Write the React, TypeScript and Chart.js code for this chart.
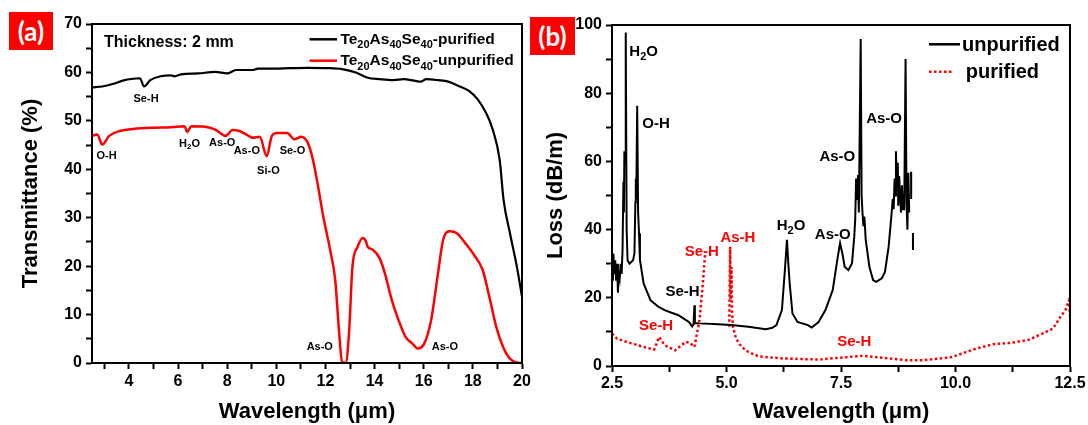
import React, { useEffect, useRef } from "react";
import { Chart, registerables } from "chart.js";

Chart.register(...registerables);

const FONT = '"Liberation Sans", Arial, Helvetica, sans-serif';

// ===== Panel (a): transmittance, Te20As40Se40, thickness 2 mm =====
const aPurifiedWavelength = [2.5, 2.92, 3.34, 3.75, 4.17, 4.45, 4.62, 4.87, 5.29, 5.71, 5.85, 6.13, 6.82, 7.52, 8.0, 8.36, 9.05, 9.26, 9.89, 10.59, 11.28, 12.12, 12.68, 13.24, 13.72, 14.21, 14.77, 15.19, 15.61, 15.89, 16.1, 16.58, 17.0, 17.42, 17.84, 18.19, 18.53, 18.81, 19.09, 19.25, 19.51, 19.79, 20.0];
const aPurifiedTransmittance = [56.9, 57.1, 57.6, 58.3, 58.7, 58.8, 57.1, 58.4, 59.2, 59.4, 59.2, 59.6, 59.8, 60.1, 59.8, 60.5, 60.5, 60.8, 60.8, 60.9, 60.95, 60.9, 60.7, 60.0, 58.9, 58.6, 58.4, 58.6, 58.3, 58.1, 58.6, 58.4, 58.1, 57.2, 56.2, 54.5, 51.7, 48.2, 42.0, 33.7, 26.8, 19.9, 13.7];

const aUnpurifiedWavelength = [2.5, 2.71, 2.92, 3.2, 3.62, 4.31, 5.01, 5.71, 6.26, 6.38, 6.54, 7.1, 7.52, 7.94, 8.22, 8.5, 8.77, 9.05, 9.33, 9.61, 9.82, 10.03, 10.45, 10.73, 11.01, 11.28, 11.49, 11.7, 11.91, 12.19, 12.4, 12.54, 12.68, 12.82, 12.96, 13.1, 13.31, 13.52, 13.65, 13.72, 13.93, 14.21, 14.42, 14.7, 14.98, 15.26, 15.54, 15.75, 16.02, 16.3, 16.58, 16.79, 17.07, 17.35, 17.7, 18.05, 18.4, 18.67, 18.95, 19.23, 19.51, 19.93, 20.0];
const aUnpurifiedTransmittance = [46.9, 47.2, 45.1, 46.9, 47.9, 48.4, 48.6, 48.7, 48.9, 47.7, 48.9, 48.8, 48.2, 46.9, 48.1, 47.9, 47.2, 46.5, 46.7, 42.7, 46.9, 47.5, 47.5, 46.2, 46.7, 45.5, 42.0, 36.5, 30.3, 23.4, 17.1, 7.5, 0.2, 0, 6.1, 19.9, 24.0, 25.8, 25.1, 24.0, 23.4, 21.6, 18.5, 13.0, 8.8, 5.4, 4.0, 3.0, 4.0, 8.8, 18.5, 25.4, 27.2, 26.8, 24.7, 22.3, 19.2, 13.7, 7.5, 3.3, 0.9, 0, 0];

const aSeriesNames = ["Te_{20}As_{40}Se_{40}-purified", "Te_{20}As_{40}Se_{40}-unpurified"];
const aXTicks = [3, 4, 5, 6, 7, 8, 9, 10, 11, 12, 13, 14, 15, 16, 17, 18, 19, 20];
const aYTicks = [0, 5, 10, 15, 20, 25, 30, 35, 40, 45, 50, 55, 60, 65, 70];

const aPeakLabels = [
  { text: "Se-H", x: 4.7, y: 54.7, color: "#000" },
  { text: "O-H", x: 3.09, y: 42.9, color: "#000" },
  { text: "H_{2}O", x: 6.47, y: 45.5, color: "#000" },
  { text: "As-O", x: 7.8, y: 45.6, color: "#000" },
  { text: "As-O", x: 8.8, y: 44.0, color: "#000" },
  { text: "Si-O", x: 9.68, y: 39.8, color: "#000" },
  { text: "Se-O", x: 10.66, y: 44.0, color: "#000" },
  { text: "As-O", x: 11.77, y: 3.5, color: "#000" },
  { text: "As-O", x: 16.86, y: 3.5, color: "#000" },
];

// ===== Panel (b): fibre loss =====
const bUnpurifiedWavelength = [2.5, 2.52, 2.53, 2.55, 2.57, 2.59, 2.61, 2.63, 2.65, 2.67, 2.69, 2.71, 2.73, 2.75, 2.76, 2.77, 2.79, 2.8, 2.82, 2.84, 2.88, 2.92, 2.96, 2.99, 3.01, 3.02, 3.03, 3.05, 3.07, 3.09, 3.11, 3.19, 3.34, 3.5, 3.65, 3.8, 3.95, 4.1, 4.18, 4.25, 4.28, 4.3, 4.31, 4.4, 4.72, 5.1, 5.48, 5.86, 6.0, 6.09, 6.21, 6.28, 6.32, 6.35, 6.38, 6.44, 6.55, 6.78, 6.86, 7.01, 7.16, 7.32, 7.43, 7.48, 7.53, 7.58, 7.66, 7.74, 7.79, 7.81, 7.83, 7.85, 7.87, 7.89, 7.93, 7.95, 7.97, 7.99, 8.01, 8.04, 8.12, 8.2, 8.27, 8.39, 8.46, 8.54, 8.6, 8.63, 8.65, 8.67, 8.69, 8.7, 8.72, 8.74, 8.75, 8.77, 8.79, 8.81, 8.83, 8.85, 8.88, 8.91, 8.93, 8.95, 8.97, 8.99, 9.01, 9.03, 9.032, 9.05, 9.07, 9.072];
const bUnpurifiedLoss = [29, 25, 33, 27, 31, 25, 30, 21.5, 28, 26, 30, 27, 34, 54, 45, 63, 60, 97.8, 40, 31, 30, 30.5, 31, 33, 48, 55, 49, 76.3, 45, 38.9, 31.1, 24.2, 19.3, 17.5, 16.4, 15.6, 14.9, 13.6, 12.9, 11.6, 12.2, 17.8, 12.6, 12.5, 12.3, 12.0, 11.5, 10.8, 11.2, 12.0, 16.4, 29.1, 37.0, 30, 24.2, 15.4, 12.9, 12.0, 11.3, 12.9, 16.4, 22.3, 32.1, 36.0, 33, 29.1, 28.1, 30.1, 38, 43, 55, 49, 56, 45, 95.9, 50, 44.8, 41, 43.8, 37, 29.1, 25.2, 24.7, 25.7, 27.6, 35, 44, 49, 46, 55, 50, 63, 52, 59.6, 47, 55.7, 50, 45, 53, 46, 46, 90, 48.8, 40, 56.7, 45, null, 57, 49, null, 39, 34];

const bPurifiedWavelength = [2.5, 2.61, 2.81, 3.19, 3.42, 3.53, 3.65, 3.88, 4.11, 4.2, 4.3, 4.41, 4.49, 4.53, 4.8, 5.06, 5.08, 5.09, 5.11, 5.12, 5.14, 5.21, 5.33, 5.48, 5.71, 6.25, 7.01, 7.62, 8.0, 8.54, 8.92, 9.3, 9.92, 10.45, 10.83, 11.22, 11.6, 11.9, 12.13, 12.29, 12.4, 12.48, 12.5];
const bPurifiedLoss = [9.5, 8.0, 7.1, 5.6, 4.8, 8.5, 6.1, 4.6, 7.1, 6.8, 5.6, 13.4, 25.2, 32.5, null, 11.5, 35, 19.3, 29, 16.4, 11.5, 8.0, 5.6, 4.1, 2.8, 2.2, 1.9, 2.6, 3.0, 2.2, 1.7, 1.7, 2.6, 5.1, 6.4, 6.8, 7.7, 9.5, 11, 14.4, 16.4, 19.3, 14.4];

const bSeriesNames = ["unpurified", "purified"];
const bXTicks = [2.5, 3.75, 5, 6.25, 7.5, 8.75, 10, 11.25, 12.5];
const bYTicks = [0, 10, 20, 30, 40, 50, 60, 70, 80, 90, 100];

const bPeakLabels = [
  { text: "H_{2}O", x: 3.19, y: 92.5, color: "#000" },
  { text: "O-H", x: 3.46, y: 71.5, color: "#000" },
  { text: "Se-H", x: 4.04, y: 22.1, color: "#000" },
  { text: "H_{2}O", x: 6.41, y: 41.4, color: "#000" },
  { text: "As-O", x: 7.32, y: 38.7, color: "#000" },
  { text: "As-O", x: 7.42, y: 61.8, color: "#000" },
  { text: "As-O", x: 8.44, y: 72.9, color: "#000" },
  { text: "Se-H", x: 4.46, y: 33.8, color: "#ff0000" },
  { text: "As-H", x: 5.25, y: 37.9, color: "#ff0000" },
  { text: "Se-H", x: 3.46, y: 12.1, color: "#ff0000" },
  { text: "Se-H", x: 7.79, y: 7.5, color: "#ff0000" },
];

// ===== helpers =====
const zip = (xs: number[], ys: (number | null)[]) => xs.map((x, i) => ({ x, y: ys[i] }));

type Part = { t: string; sub: boolean };
function parseRich(s: string): Part[] {
  const parts: Part[] = [];
  const re = /_\{([^}]*)\}/g;
  let last = 0;
  let m: RegExpExecArray | null;
  while ((m = re.exec(s))) {
    if (m.index > last) parts.push({ t: s.slice(last, m.index), sub: false });
    parts.push({ t: m[1], sub: true });
    last = re.lastIndex;
  }
  if (last < s.length) parts.push({ t: s.slice(last), sub: false });
  return parts;
}

function drawRich(ctx: CanvasRenderingContext2D, s: string, x: number, y: number, size: number, color: string, align: "left" | "center") {
  const parts = parseRich(s);
  const subSize = Math.round(size * 0.72);
  const fontFor = (sub: boolean) => `bold ${sub ? subSize : size}px ${FONT}`;
  let w = 0;
  for (const p of parts) {
    ctx.font = fontFor(p.sub);
    w += ctx.measureText(p.t).width;
  }
  let cx = align === "center" ? x - w / 2 : x;
  const base = y + size * 0.36;
  ctx.fillStyle = color;
  ctx.textBaseline = "alphabetic";
  ctx.textAlign = "left";
  for (const p of parts) {
    ctx.font = fontFor(p.sub);
    ctx.fillText(p.t, cx, p.sub ? base + size * 0.26 : base);
    cx += ctx.measureText(p.t).width;
  }
}

function legendLine(ctx: CanvasRenderingContext2D, x0: number, x1: number, y: number, color: string, width: number, dash: number[]) {
  ctx.save();
  ctx.strokeStyle = color;
  ctx.lineWidth = width;
  ctx.setLineDash(dash);
  ctx.beginPath();
  ctx.moveTo(x0, y);
  ctx.lineTo(x1, y);
  ctx.stroke();
  ctx.restore();
}

const framePlugin = {
  id: "frame",
  afterDatasetsDraw(chart: any) {
    const { ctx, chartArea } = chart;
    const { left, top, right, bottom } = chartArea;
    ctx.save();
    ctx.strokeStyle = "#000";
    ctx.lineWidth = 2;
    ctx.strokeRect(left, top, right - left, bottom - top);
    ctx.restore();
  },
};

function peakLabelPlugin(id: string, labels: { text: string; x: number; y: number; color: string }[], size: number) {
  return {
    id,
    afterDatasetsDraw(chart: any) {
      const { ctx, scales } = chart;
      ctx.save();
      for (const l of labels) {
        drawRich(ctx, l.text, scales.x.getPixelForValue(l.x), scales.y.getPixelForValue(l.y), size, l.color, "center");
      }
      ctx.restore();
    },
  };
}

const tickFont = { family: FONT, size: 16, weight: "bold" as const };
const titleFont = { family: FONT, size: 22, weight: "bold" as const };

function axis(opts: {
  min: number; max: number; ticks: number[]; label: (v: number) => string;
  size: number; horizontal: boolean; title: string; titlePad: number; tickPad: number;
}) {
  return {
    type: "linear" as const,
    min: opts.min,
    max: opts.max,
    afterBuildTicks: (s: any) => {
      s.ticks = opts.ticks.map((v) => ({ value: v }));
    },
    afterFit: (s: any) => {
      if (opts.horizontal) s.height = opts.size;
      else s.width = opts.size;
    },
    ticks: {
      autoSkip: false,
      maxRotation: 0,
      color: "#000",
      font: tickFont,
      padding: opts.tickPad,
      callback: (v: any) => opts.label(Number(v)),
    },
    grid: {
      display: true,
      drawOnChartArea: false,
      drawTicks: true,
      tickLength: 6,
      tickColor: "#000",
      tickWidth: 2,
    },
    border: { display: true, color: "#000", width: 2 },
    title: {
      display: true,
      text: opts.title,
      color: "#000",
      font: titleFont,
      padding: opts.horizontal ? { top: 0, bottom: opts.titlePad } : { top: opts.titlePad, bottom: 0 },
    },
  };
}

function configA(): any {
  const legendA = {
    id: "legendA",
    afterDraw(chart: any) {
      const ctx = chart.ctx;
      ctx.save();
      drawRich(ctx, "Thickness: 2 mm", 104, 41.7, 16, "#000", "left");
      legendLine(ctx, 309.6, 337, 39.3, "#000", 2.5, []);
      drawRich(ctx, aSeriesNames[0], 340.4, 38.5, 15.5, "#000", "left");
      legendLine(ctx, 309.6, 337, 60.7, "#ff0000", 2.5, []);
      drawRich(ctx, aSeriesNames[1], 340.4, 59.9, 15.5, "#000", "left");
      ctx.restore();
    },
  };
  return {
    type: "line",
    data: {
      datasets: [
        {
          label: "Te₂₀As₄₀Se₄₀-purified",
          data: zip(aPurifiedWavelength, aPurifiedTransmittance),
          borderColor: "#000",
          borderWidth: 2.2,
          pointRadius: 0,
          cubicInterpolationMode: "monotone",
        },
        {
          label: "Te₂₀As₄₀Se₄₀-unpurified",
          data: zip(aUnpurifiedWavelength, aUnpurifiedTransmittance),
          borderColor: "#ff0000",
          borderWidth: 2.5,
          pointRadius: 0,
          cubicInterpolationMode: "monotone",
        },
      ],
    },
    options: {
      animation: false,
      responsive: false,
      layout: { padding: { top: 24, right: 23, left: 0, bottom: 0 } },
      plugins: { legend: { display: false }, tooltip: { enabled: false } },
      scales: {
        x: axis({ min: 2.5, max: 20, ticks: aXTicks, label: (v) => (v % 2 === 0 ? String(v) : ""), size: 62, horizontal: true, title: "Wavelength (μm)", titlePad: 0, tickPad: 3 }),
        y: axis({ min: 0, max: 70, ticks: aYTicks, label: (v) => (v % 10 === 0 ? String(v) : ""), size: 92, horizontal: false, title: "Transmittance (%)", titlePad: 18, tickPad: 4 }),
      },
    },
    plugins: [framePlugin, peakLabelPlugin("peaksA", aPeakLabels, 11), legendA],
  };
}

function configB(): any {
  const legendB = {
    id: "legendB",
    afterDraw(chart: any) {
      const ctx = chart.ctx;
      ctx.save();
      legendLine(ctx, 399, 430, 44.3, "#000", 2.5, []);
      drawRich(ctx, bSeriesNames[0], 432, 43.5, 20, "#000", "left");
      legendLine(ctx, 399, 423, 71.7, "#ff0000", 2.5, [2.5, 2.5]);
      drawRich(ctx, bSeriesNames[1], 435.7, 71, 20, "#000", "left");
      ctx.restore();
    },
  };
  return {
    type: "line",
    data: {
      datasets: [
        {
          label: bSeriesNames[0],
          data: zip(bUnpurifiedWavelength, bUnpurifiedLoss),
          borderColor: "#000",
          borderWidth: 2,
          pointRadius: 0,
          tension: 0,
          spanGaps: false,
        },
        {
          label: bSeriesNames[1],
          data: zip(bPurifiedWavelength, bPurifiedLoss),
          borderColor: "#ff0000",
          borderWidth: 2.5,
          borderDash: [2.5, 2.5],
          pointRadius: 0,
          tension: 0,
          spanGaps: false,
        },
      ],
    },
    options: {
      animation: false,
      responsive: false,
      layout: { padding: { top: 25, right: 18, left: 0, bottom: 0 } },
      plugins: { legend: { display: false }, tooltip: { enabled: false } },
      scales: {
        x: axis({ min: 2.5, max: 12.5, ticks: bXTicks, label: (v) => (v % 2.5 === 0 ? v.toFixed(1) : ""), size: 59, horizontal: true, title: "Wavelength (μm)", titlePad: 0, tickPad: 2 }),
        y: axis({ min: 0, max: 100, ticks: bYTicks, label: (v) => (v % 20 === 0 ? String(v) : ""), size: 82, horizontal: false, title: "Loss (dB/m)", titlePad: 13, tickPad: 4 }),
      },
    },
    plugins: [framePlugin, peakLabelPlugin("peaksB", bPeakLabels, 15), legendB],
  };
}

const panelTag = (left: number, top: number, w: number, h: number): React.CSSProperties => ({
  position: "absolute",
  left,
  top,
  width: w,
  height: h,
  background: "#ff0000",
  color: "#fff",
  font: `bold 26px Lato, "Liberation Sans", sans-serif`,
  display: "flex",
  alignItems: "center",
  justifyContent: "center",
  zIndex: 2,
});

export default function App() {
  const refA = useRef<HTMLCanvasElement>(null);
  const refB = useRef<HTMLCanvasElement>(null);
  useEffect(() => {
    document.body.style.margin = "0";
    const a = new Chart(refA.current as HTMLCanvasElement, configA());
    const b = new Chart(refB.current as HTMLCanvasElement, configB());
    return () => {
      a.destroy();
      b.destroy();
    };
  }, []);
  return (
    <div style={{ position: "absolute", left: 0, top: 0, width: 1088, height: 425, background: "#fff", overflow: "hidden" }}>
      <canvas ref={refA} width={545} height={425} style={{ position: "absolute", left: 0, top: 0 }} />
      <canvas ref={refB} width={558} height={425} style={{ position: "absolute", left: 530, top: 0 }} />
      <div style={panelTag(9, 12, 44, 38)}>(a)</div>
      <div style={panelTag(530, 17, 45, 38)}>(b)</div>
    </div>
  );
}
